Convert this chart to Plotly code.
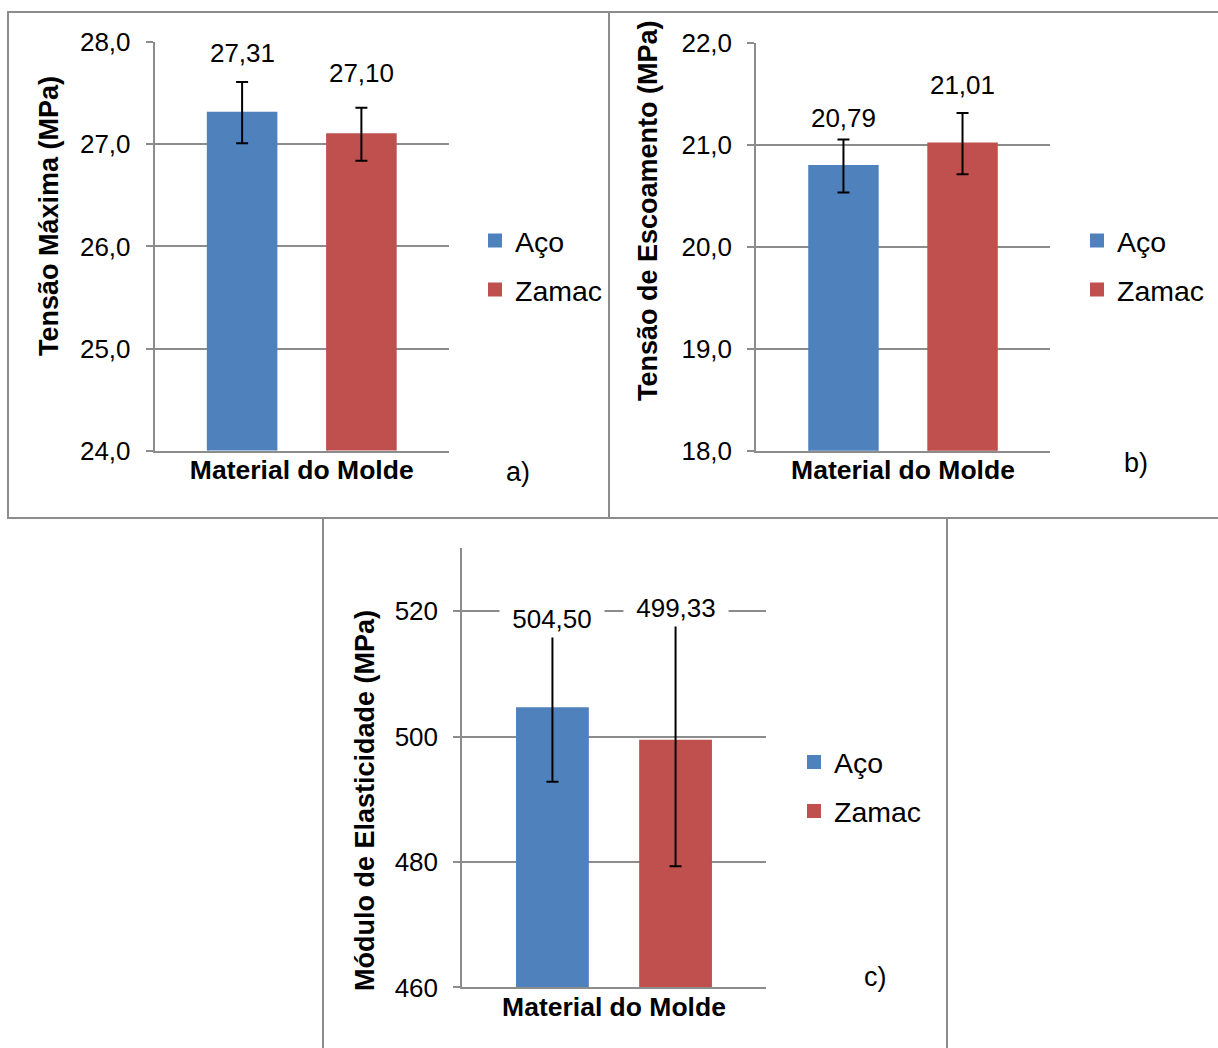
import plotly.graph_objects as go

# Dados: ensaio de tração dos corpos de prova por material do molde
categorias = ["Material do Molde"]
materiais = ["Aço", "Zamac"]
cores = ["#4F81BD", "#C0504D"]

tensao_maxima = [27.31, 27.10]
tensao_maxima_dp = [0.30, 0.26]

tensao_escoamento = [20.79, 21.01]
tensao_escoamento_dp = [0.26, 0.30]

modulo_elasticidade = [504.50, 499.33]
modulo_elasticidade_dp = [11.7, 20.0]

W, H = 1218, 1048
FONTE = "Liberation Sans, Arial, sans-serif"
CINZA = "#8c8c8c"
BARGAP = 0.19
BARGROUPGAP = 0.425


def px(x):
    return x / W


def py(y):
    return 1 - y / H


paineis = [
    dict(valores=tensao_maxima, dp=tensao_maxima_dp, ytitulo="Tensão Máxima (MPa)",
         yrange=[24, 28], dtick=1, fmt=".1f",
         xdom=(154.5, 449), ydom=(42.3, 450.6), ytit_pos=(49.5, 216.5),
         rotulo="a)", rot_pos=(517.5, 472), leg_pos=(475, 265.5),
         desloc=[29, 35], caixa=(8, 12, 609, 518)),
    dict(valores=tensao_escoamento, dp=tensao_escoamento_dp, ytitulo="Tensão de Escoamento (MPa)",
         yrange=[18, 22], dtick=1, fmt=".1f",
         xdom=(756, 1050), ydom=(42.6, 450.7), ytit_pos=(648.5, 210.5),
         rotulo="b)", rot_pos=(1136, 463), leg_pos=(1077, 265.5),
         desloc=[22, 28], caixa=(609, 12, 1230, 518)),
    dict(valores=modulo_elasticidade, dp=modulo_elasticidade_dp, ytitulo="Módulo de Elasticidade (MPa)",
         yrange=[460, 530], dtick=20, fmt="d",
         xdom=(462, 766), ydom=(548.4, 987.4), ytit_pos=(365, 801),
         rotulo="c)", rot_pos=(875, 977), leg_pos=(794, 787),
         desloc=[15.5, 7], caixa=(323, 518, 947, 1060)),
]

fig = go.Figure()
anotacoes = []
formas = []
layout_extra = {}

meio_slot = (1 - BARGAP) / 4

for i, p in enumerate(paineis):
    n = i + 1
    sx = "" if n == 1 else str(n)
    leg = "legend" if n == 1 else f"legend{n}"

    for j, nome in enumerate(materiais):
        fig.add_trace(go.Bar(
            x=categorias, y=[p["valores"][j]], name=nome,
            marker=dict(color=cores[j], line=dict(color=cores[j], width=2)),
            error_y=dict(type="data", array=[p["dp"][j]], color="black", thickness=2, width=6),
            xaxis=f"x{sx}", yaxis=f"y{sx}", legend=leg,
            legendgroup=f"{p['rotulo']}{nome}", hoverinfo="skip",
        ))
        # rótulo de dados com fundo branco
        texto = f"{p['valores'][j]:.2f}".replace(".", ",")
        anotacoes.append(dict(
            x=(-1 if j == 0 else 1) * meio_slot, y=p["valores"][j] + p["dp"][j],
            xref=f"x{sx}", yref=f"y{sx}", text=texto, showarrow=False,
            yanchor="middle", yshift=p["desloc"][j],
            font=dict(size=26, color="black", family=FONTE),
            bgcolor="white", borderpad=3, width=13 * len(texto) + 20,
        ))

    layout_extra[f"xaxis{sx}"] = dict(
        domain=[px(p["xdom"][0]), px(p["xdom"][1])], anchor=f"y{sx}",
        showline=True, linecolor=CINZA, linewidth=1.5, ticks="", showgrid=False,
        tickfont=dict(size=26.5, family=FONTE, color="black", weight="bold"),
        ticklabelstandoff=-5, automargin=False, fixedrange=True,
    )
    layout_extra[f"yaxis{sx}"] = dict(
        domain=[py(p["ydom"][1]), py(p["ydom"][0])], anchor=f"x{sx}",
        range=p["yrange"], tick0=p["yrange"][0], dtick=p["dtick"], tickformat=p["fmt"],
        showgrid=True, gridcolor=CINZA, gridwidth=1.5,
        showline=True, linecolor=CINZA, linewidth=1.5,
        ticks="outside", ticklen=7, tickcolor=CINZA, tickwidth=1.5,
        tickfont=dict(size=26, family=FONTE, color="black"),
        ticklabelstandoff=10, zeroline=False, automargin=False, fixedrange=True,
    )
    layout_extra[leg] = dict(
        x=px(p["leg_pos"][0]), y=py(p["leg_pos"][1]), xanchor="left", yanchor="middle",
        font=dict(size=28.5, family=FONTE, color="black"), bgcolor="rgba(0,0,0,0)",
        tracegroupgap=9, itemclick=False, itemdoubleclick=False,
    )

    # título do eixo y
    anotacoes.append(dict(
        x=px(p["ytit_pos"][0]), y=py(p["ytit_pos"][1]), xref="paper", yref="paper",
        text=p["ytitulo"], textangle=-90, showarrow=False,
        xanchor="center", yanchor="middle",
        font=dict(size=27, family=FONTE, color="black", weight="bold"),
    ))
    # identificação do painel
    anotacoes.append(dict(
        x=px(p["rot_pos"][0]), y=py(p["rot_pos"][1]), xref="paper", yref="paper",
        text=p["rotulo"], showarrow=False, xanchor="center", yanchor="middle",
        font=dict(size=27, family=FONTE, color="black"),
    ))
    # moldura do painel
    x0, y0, x1, y1 = p["caixa"]
    formas.append(dict(
        type="rect", xref="paper", yref="paper",
        x0=px(x0), x1=px(x1), y0=py(y1), y1=py(y0),
        line=dict(color=CINZA, width=2), layer="below",
    ))

fig.update_layout(
    width=W, height=H, autosize=False,
    margin=dict(l=0, r=0, t=0, b=0, autoexpand=False),
    paper_bgcolor="white", plot_bgcolor="white",
    barmode="group", bargap=BARGAP, bargroupgap=BARGROUPGAP,
    separators=",.",
    font=dict(family=FONTE, color="black"),
    annotations=anotacoes, shapes=formas,
    **layout_extra,
)

fig.write_html("out.html")
